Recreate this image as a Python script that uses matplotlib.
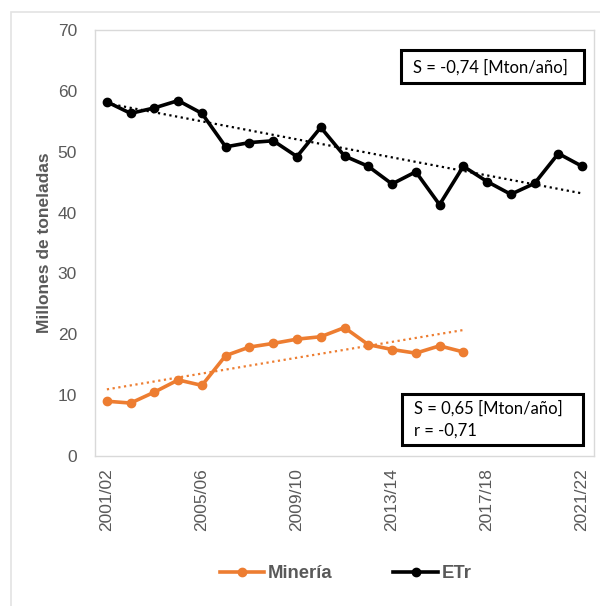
import numpy as np
import matplotlib
matplotlib.use("Agg")
import matplotlib.pyplot as plt
from matplotlib.patches import Rectangle
from matplotlib.lines import Line2D

seasons = [f"{y}/{str(y + 1)[-2:]}" for y in range(2001, 2022)]
etr = [58.2, 56.3, 57.2, 58.4, 56.3, 50.8, 51.5, 51.8, 49.2, 54.0, 49.3,
       47.6, 44.7, 46.7, 41.3, 47.6, 45.1, 43.0, 44.8, 49.7, 47.6]
mineria = [9.0, 8.7, 10.5, 12.5, 11.6, 16.5, 17.9, 18.5, 19.2, 19.6, 21.1,
           18.3, 17.5, 16.9, 18.1, 17.1]

# trendlines: (slope in Mton per season, value at the first season)
trend_etr = (-0.74, 57.95)
trend_mineria = (0.65, 10.95)

box_top = "S = -0,74 [Mton/año]"
box_bottom = "S = 0,65 [Mton/año]\nr = -0,71"

ORANGE = "#ED7D31"
GRAY_TXT = "#595959"
FRAME = "#D9D9D9"

fig = plt.figure(figsize=(6.0, 6.06), dpi=100)
ax = fig.add_axes([95 / 600, 1 - 456 / 606, 499 / 600, 426 / 606])

# outer chart-area frame
fig.patches.append(Rectangle((11 / 600, -0.05), 1.2, 1 - 12 / 606 + 0.05,
                             transform=fig.transFigure, fill=False,
                             edgecolor="#E3E3E3", linewidth=1.2))

x_etr = np.arange(len(etr))
x_min = np.arange(len(mineria))

ax.plot(x_etr, trend_etr[1] + trend_etr[0] * x_etr, linestyle=(0, (1, 1.6)),
        color="black", linewidth=1.6, zorder=2)
ax.plot(x_min, trend_mineria[1] + trend_mineria[0] * x_min,
        linestyle=(0, (1, 1.6)), color=ORANGE, linewidth=1.6, zorder=2)

ax.plot(x_min, mineria, color=ORANGE, linewidth=2.6, marker="o",
        markersize=6, zorder=3)
ax.plot(x_etr, etr, color="black", linewidth=2.6, marker="o",
        markersize=6, zorder=3)

ax.set_xlim(-0.5, len(seasons) - 0.5)
ax.set_ylim(0, 70)
ax.set_yticks(range(0, 71, 10))
ax.set_xticks(x_etr[::4])
ax.set_xticklabels(seasons[::4], rotation=90)
ax.tick_params(length=0, labelsize=12.5, labelcolor=GRAY_TXT)
ax.tick_params(axis="x", pad=8.6)
ax.tick_params(axis="y", pad=13)
for lab in ax.get_xticklabels() + ax.get_yticklabels():
    lab.set_family("Liberation Sans")
for s in ax.spines.values():
    s.set_color(FRAME)
    s.set_linewidth(1.0)

ax.set_ylabel("Millones de toneladas", fontsize=12.5, fontweight="bold",
              color=GRAY_TXT, family="Liberation Sans", labelpad=4)

# annotation boxes
for (x0, y0, x1, y1) in [(0.613, 0.876, 0.980, 0.954),
                         (0.615, 0.026, 0.978, 0.146)]:
    ax.add_patch(Rectangle((x0, y0), x1 - x0, y1 - y0, transform=ax.transAxes,
                           fill=True, facecolor="white", edgecolor="black",
                           linewidth=2.2, zorder=5))
ax.text(0.637, 0.913, box_top, transform=ax.transAxes, fontsize=12,
        family="Lato", va="center", ha="left", zorder=6)
ax.text(0.639, 0.086, box_bottom, transform=ax.transAxes, fontsize=12,
        family="Lato", va="center", ha="left", linespacing=1.45, zorder=6)

handles = [Line2D([], [], color=ORANGE, linewidth=2.6, marker="o", markersize=6),
           Line2D([], [], color="black", linewidth=2.6, marker="o", markersize=6)]
leg = fig.legend(handles, ["Minería", "ETr"], loc="center",
                 bbox_to_anchor=(0.576, 1 - 574 / 606), ncol=2, frameon=False,
                 prop={"family": "Liberation Sans", "weight": "bold", "size": 13.3},
                 handlelength=2.4, handletextpad=0.2, columnspacing=3.3)
for t in leg.get_texts():
    t.set_color(GRAY_TXT)

fig.savefig("out.png", dpi=100)
